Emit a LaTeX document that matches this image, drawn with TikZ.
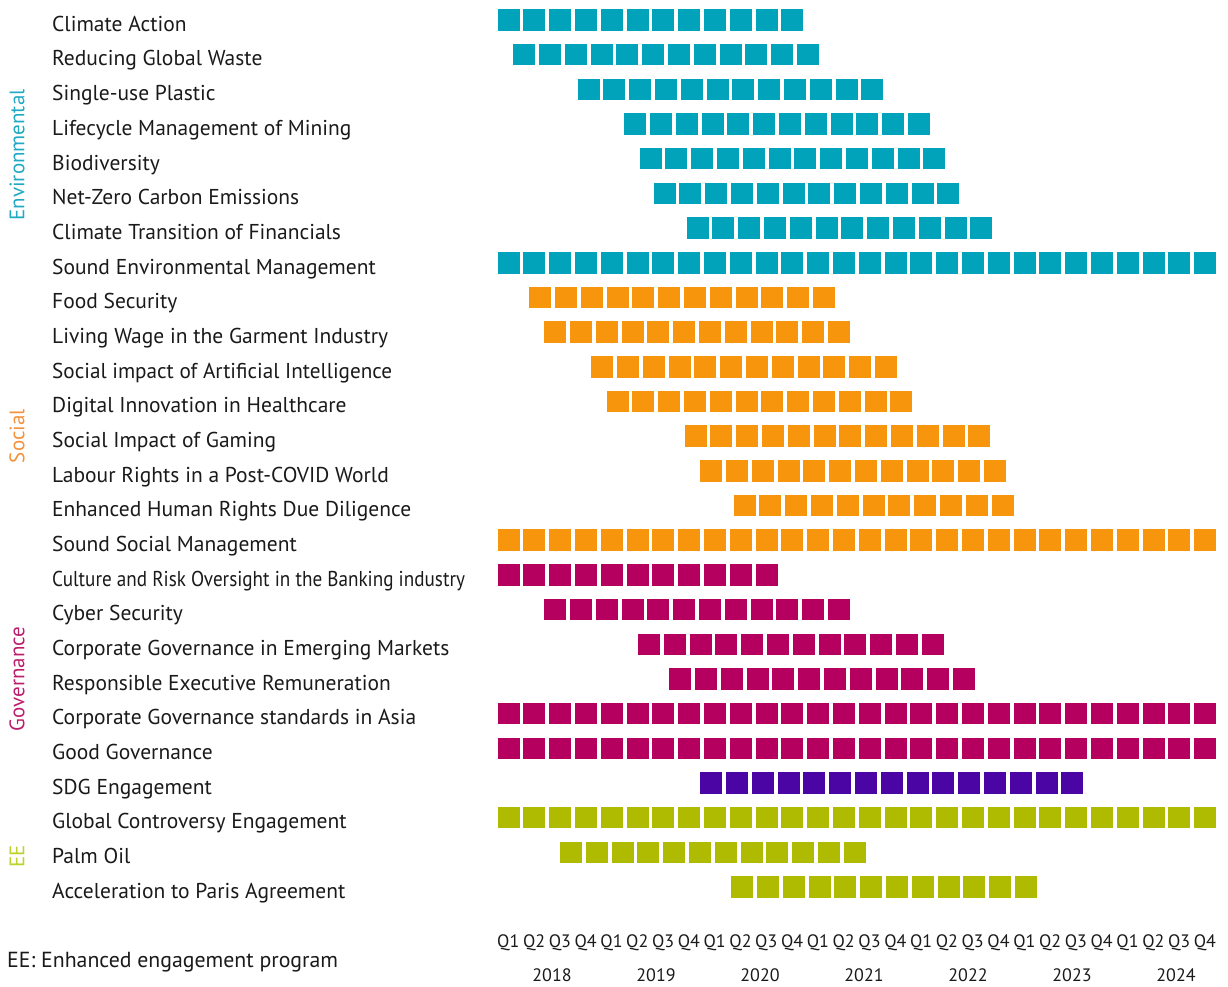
\documentclass[tikz,border=0pt]{standalone}
\usepackage{fontspec}
\setmainfont{PT Sans}
\definecolor{envc}{HTML}{00A3B9}
\definecolor{socc}{HTML}{F7960D}
\definecolor{govc}{HTML}{B50060}
\definecolor{sdgc}{HTML}{4B05A5}
\definecolor{eec}{HTML}{AFBB00}
\definecolor{envt}{HTML}{1FA9C2}
\definecolor{soct}{HTML}{F5913A}
\definecolor{govt}{HTML}{BC1D6C}
\definecolor{eet}{HTML}{BDD22A}
\definecolor{txt}{HTML}{1A1A1A}
\tikzset{
  sq/.style={fill=#1, draw=none, minimum width=22pt, minimum height=21.5pt, inner sep=0pt, anchor=west},
  lbl/.style={anchor=base west, inner sep=0pt, text=txt, font=\fontsize{21.5}{22}\selectfont},
  grp/.style={rotate=90, inner sep=0pt, text=#1, font=\fontsize{21}{22}\selectfont},
  ax/.style={anchor=base, inner sep=0pt, text=txt, font=\fontsize{18}{18}\selectfont}
}
\begin{document}
\begin{tikzpicture}[x=1pt,y=-1pt]
\useasboundingbox (0,0) rectangle (1228,986);
\foreach \i/\name/\start/\n/\col/\sx in {
 1/Climate Action/497.3/12/envc/1,
 2/Reducing Global Waste/513/12/envc/1,
 3/Single-use Plastic/577.3/12/envc/1,
 4/Lifecycle Management of Mining/624/12/envc/1,
 5/Biodiversity/639.3/12/envc/1,
 6/Net-Zero Carbon Emissions/653.3/12/envc/1,
 7/Climate Transition of Financials/686.3/12/envc/1,
 8/Sound Environmental Management/497.3/28/envc/1,
 9/Food Security/529/12/socc/1,
 10/Living Wage in the Garment Industry/544/12/socc/1,
 11/Social impact of Artificial Intelligence/591/12/socc/0.985,
 12/Digital Innovation in Healthcare/606.3/12/socc/1,
 13/Social Impact of Gaming/684.3/12/socc/1,
 14/Labour Rights in a Post-COVID World/700/12/socc/1,
 15/Enhanced Human Rights Due Diligence/733.3/11/socc/1,
 16/Sound Social Management/497.3/28/socc/1,
 17/Culture and Risk Oversight in the Banking industry/497.3/11/govc/0.891,
 18/Cyber Security/544/12/govc/1,
 19/Corporate Governance in Emerging Markets/637.7/12/govc/1,
 20/Responsible Executive Remuneration/669/12/govc/1,
 21/Corporate Governance standards in Asia/497.3/28/govc/1,
 22/Good Governance/497.3/28/govc/1,
 23/SDG Engagement/700/15/sdgc/1,
 24/Global Controversy Engagement/497.3/28/eec/1,
 25/Palm Oil/559.7/12/eec/1,
 26/Acceleration to Paris Agreement/731/12/eec/1} {
  \pgfmathsetmacro\yc{20+(\i-1)*34.68}
  \node[lbl, xscale=\sx] (L\i) at (52,\yc+11.3) {\name};
  \foreach \j in {1,...,\n} {
    \node[sq=\col] (s\i-\j) at ({\start+(\j-1)*25.8}, \yc) {};
  }
}
\node[grp=envt] (genv) at (17,155) {Environmental};
\node[grp=soct] (gsoc) at (17,436) {Social};
\node[grp=govt] (ggov) at (17,679) {Governance};
\node[grp=eet] (gee) at (17,856) {EE};
\foreach \k in {0,...,27} {
  \pgfmathtruncatemacro\q{mod(\k,4)+1}
  \node[ax] (q\k) at ({497.3+11+\k*25.8}, 947) {Q\q};
}
\foreach \yr [count=\m from 0] in {2018,2019,2020,2021,2022,2023,2024} {
  \node[ax] (y\yr) at ({552+\m*104}, 981) {\yr};
}
\node[lbl, font=\fontsize{21.8}{22}\selectfont] (note) at (7,967) {EE: Enhanced engagement program};
\end{tikzpicture}
\end{document}
